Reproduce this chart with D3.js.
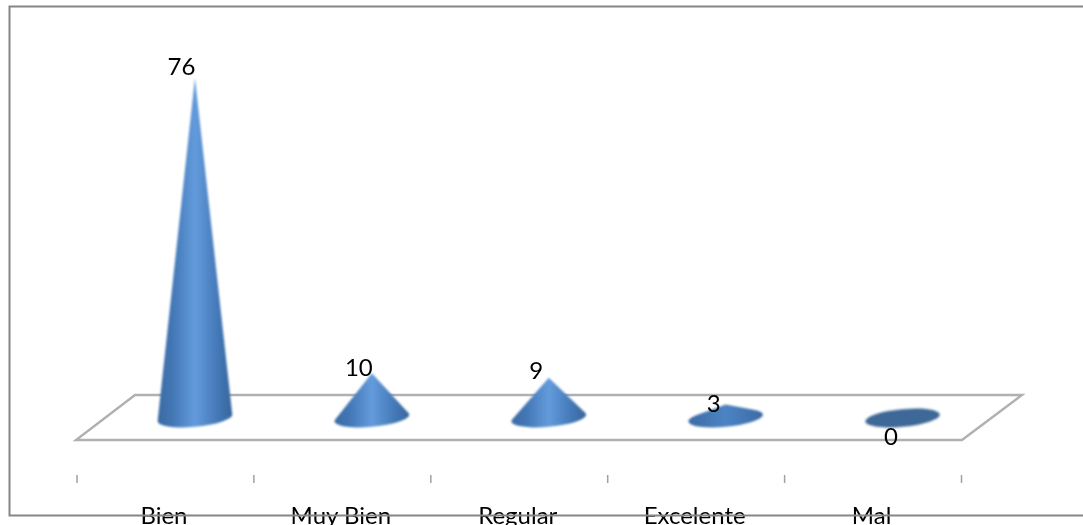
<!DOCTYPE html>
<html><head><meta charset="utf-8">
<style>html,body{margin:0;padding:0;background:#fff;overflow:hidden}svg{display:block}text{font-family:Lato,"Open Sans",sans-serif;fill:#000}</style>
<script src="https://cdn.jsdelivr.net/npm/d3@7"></script>
</head><body><svg id="c" width="1083" height="525"></svg>
<script>
const categories = ["Bien","Muy Bien","Regular","Excelente","Mal"];
const values = [76,10,9,3,0];

const svg=d3.select("#c");
const x=d3.scaleBand().domain(categories).range([77,961.5]);
const y=d3.scaleLinear().domain([0,76]).range([418,78]);
const baseShift=29.5;             // perspective: the cones sit to the right of the tick band
const cx=c=>x(c)+x.bandwidth()/2+baseShift;
const rx=37.5, ry=8.8, tilt=-5.4, t=tilt*Math.PI/180;

const defs=svg.append("defs");
const g=defs.append("linearGradient").attr("id","cone").attr("x1",0).attr("x2",1).attr("y1",0).attr("y2",0);
[[0,"#3a6aa3"],[.2,"#4377b5"],[.5,"#639bdc"],[.8,"#4479b8"],[1,"#37659c"]].forEach(s=>g.append("stop").attr("offset",s[0]).attr("stop-color",s[1]));
const gf=defs.append("linearGradient").attr("id","flat").attr("x1",0).attr("x2",1).attr("y1",0).attr("y2",0);
[[0,"#3c6ba3"],[.5,"#4c84c5"],[1,"#3c6ba3"]].forEach(s=>gf.append("stop").attr("offset",s[0]).attr("stop-color",s[1]));
defs.append("filter").attr("id","soft").append("feGaussianBlur").attr("stdDeviation",0.9);
defs.append("filter").attr("id","softLine").append("feGaussianBlur").attr("stdDeviation",0.4);

// floor
const floor=[[76,440],[962,440],[1022,395],[135,395]];
svg.append("path").attr("d",d3.line()(floor)+"Z").attr("fill","#fff").attr("stroke","#b0b0b0").attr("stroke-width",2.4).attr("filter","url(#softLine)");

// ticks
const tickXs=categories.map(c=>x(c)).concat(x.range()[1]);
svg.selectAll(".tick").data(tickXs).join("line").attr("class","tick")
  .attr("x1",d=>d).attr("x2",d=>d).attr("y1",475).attr("y2",483).attr("stroke","#a0a0a0").attr("stroke-width",1.5);

// cones: outline runs from the apex to the true tangent points of the tilted base ellipse
const marks=svg.append("g").attr("filter","url(#soft)");
categories.forEach((c,i)=>{
  const v=values[i], X=cx(c), Y0=y(0), Yt=y(v);
  if(v===0){
    marks.append("ellipse").attr("cx",X).attr("cy",Y0).attr("rx",rx).attr("ry",ry)
      .attr("transform",`rotate(${tilt} ${X} ${Y0})`).attr("fill","#3c6797");
    return;
  }
  const px=0, py=Yt-Y0;
  const lu=(px*Math.cos(t)+py*Math.sin(t))/rx, lv=(-px*Math.sin(t)+py*Math.cos(t))/ry;
  const r=Math.hypot(lu,lv), a=Math.atan2(lv,lu), b=Math.acos(1/r);
  const pt=ang=>{const ex=rx*Math.cos(ang), ey=ry*Math.sin(ang);
    return [X+ex*Math.cos(t)-ey*Math.sin(t), Y0+ex*Math.sin(t)+ey*Math.cos(t)];};
  const R=pt(a+b), L=pt(a-b);
  const d=`M${X},${Yt}L${R[0]},${R[1]}A${rx},${ry} ${tilt} 1 1 ${L[0]},${L[1]}Z`;
  marks.append("path").attr("d",d).attr("fill",v<=3?"url(#flat)":"url(#cone)");
});

// value labels
const labelDx=-13, labelDy=[-3,3,1.5,7,27];
categories.forEach((c,i)=>{
  svg.append("text").attr("x",cx(c)+labelDx+(i-1)*0.5).attr("y",y(values[i])+labelDy[i])
    .attr("text-anchor","middle").attr("font-size",24).text(values[i]);
});

// category labels
categories.forEach(c=>{
  svg.append("text").attr("x",x(c)+x.bandwidth()/2-1.5).attr("y",523.5)
    .attr("text-anchor","middle").attr("font-size",24).text(c);
});

// chart border, on top of the labels
svg.append("path").attr("d","M1083,6.5H9.5V515.5H1083").attr("fill","none").attr("stroke","#868686").attr("stroke-width",2);
</script></body></html>
